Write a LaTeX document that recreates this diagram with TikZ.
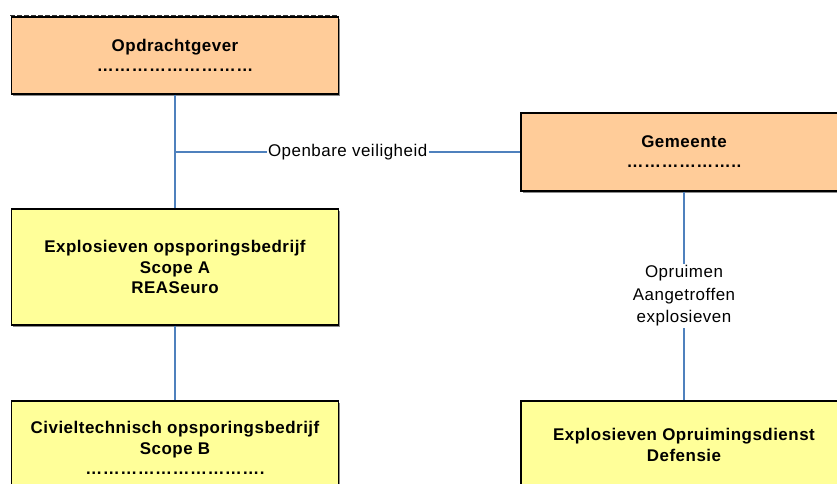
\documentclass[tikz,border=0pt]{standalone}
\usepackage{fontspec}
\setmainfont[LetterSpace=3]{Liberation Sans}
\usetikzlibrary{shadows}
\definecolor{boxorange}{RGB}{255,204,153}
\definecolor{boxyellow}{RGB}{255,255,153}
\definecolor{linkblue}{RGB}{79,129,189}
\begin{document}
\begin{tikzpicture}[x=1bp,y=-1bp,
  orgbox/.style={draw=black,line width=1.4bp,inner sep=0pt,align=center,
    font=\bfseries\fontsize{17}{21}\selectfont,
    drop shadow={shadow xshift=1.6bp,shadow yshift=-1.6bp,fill=black!45,opacity=1}},
  party/.style={orgbox,fill=boxorange},
  firm/.style={orgbox,fill=boxyellow},
  link/.style={draw=linkblue,line width=1.6bp},
  linklabel/.style={fill=white,inner sep=1.5bp,align=center,
    font=\fontsize{17}{22.5}\selectfont}]
\useasboundingbox (0,0) rectangle (837,484);
\clip (0,0) rectangle (837,484);

% dashed rule along the top edge of the client box
\draw[black!80,line width=0.8bp,dash pattern=on 5bp off 2bp] (10,15) -- (337,15);

% boxes
\node[party,minimum width=327bp,minimum height=77bp] (opd) at (175,55.5)
  {Opdrachtgever\\[-1bp]………………………};
\node[party,minimum width=326bp,minimum height=78bp] (gem) at (684,152)
  {Gemeente\\[-1bp]………………..};
\node[firm,minimum width=327bp,minimum height=116bp] (expA) at (175,267)
  {Explosieven opsporingsbedrijf\\Scope A\\REASeuro};
\node[firm,minimum width=327bp,minimum height=94bp] (civB) at (175,448)
  {Civieltechnisch opsporingsbedrijf\\Scope B\\[-1bp]………………………….};
\node[firm,minimum width=326bp,minimum height=88bp] (eod) at (684,445)
  {Explosieven Opruimingsdienst\\Defensie};

% connectors
\coordinate (jn) at (opd.south |- gem.west);
\draw[link] (opd.south) -- (expA.north);
\draw[link] (expA.south) -- (civB.north);
\draw[link] (jn) -- node[linklabel] (lbl1) {Openbare veiligheid} (gem.west);
\draw[link] (gem.south) -- node[linklabel] (lbl2) {Opruimen\\Aangetroffen\\explosieven} (eod.north);
\end{tikzpicture}
\end{document}
